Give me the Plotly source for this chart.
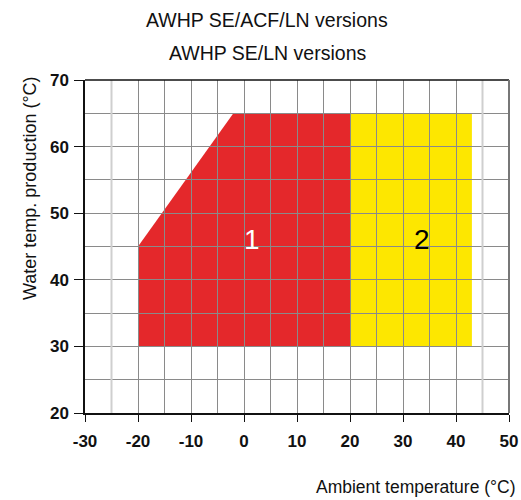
import plotly.graph_objects as go

# Operating envelope data
zone1_x = [-20, -20, -2, 20, 20]
zone1_y = [30, 45, 65, 65, 30]
zone2_x = [20, 20, 43, 43]
zone2_y = [30, 65, 65, 30]
zone_labels = ["1", "2"]
label_x = [1.5, 33.5]
label_y = [46, 46]
x_ticks = [-30, -20, -10, 0, 10, 20, 30, 40, 50]
y_ticks = [20, 30, 40, 50, 60, 70]
light_grid_x = [-25, 45]

def path(xs, ys):
    return "M " + " L ".join(f"{x},{y}" for x, y in zip(xs, ys)) + " Z"

L, R, T, B = 85, 509, 80, 413
PW, PH = R - L, B - T

fig = go.Figure()
fig.add_trace(go.Scatter(x=zone1_x + zone2_x, y=zone1_y + zone2_y, mode="markers",
                         marker=dict(opacity=0), hoverinfo="skip", showlegend=False))

fig.add_shape(type="path", path=path(zone1_x, zone1_y), fillcolor="#e4282b",
              line=dict(width=0), layer="below")
fig.add_shape(type="path", path=path(zone2_x, zone2_y), fillcolor="#fde700",
              line=dict(width=0), layer="below")
for gx in light_grid_x:
    fig.add_shape(type="line", x0=gx, x1=gx, y0=20, y1=70, xref="x", yref="y",
                  line=dict(color="#cfcfcf", width=2), layer="above")

for t, x, y, c in zip(zone_labels, label_x, label_y, ["white", "black"]):
    fig.add_annotation(x=x, y=y, text=t, showarrow=False, yanchor="middle",
                       font=dict(size=28, color=c, family="Liberation Sans"))

def px(x):
    return (x - L) / PW

def py(y):
    return (B - y) / PH

fig.add_annotation(xref="paper", yref="paper", x=px(267), y=py(20), yanchor="middle",
                   text="AWHP SE/ACF/LN versions", showarrow=False,
                   font=dict(size=19.5, color="#111", family="Liberation Sans"))
fig.add_annotation(xref="paper", yref="paper", x=px(267), y=py(53), yanchor="middle",
                   text="AWHP SE/LN versions", showarrow=False,
                   font=dict(size=19.5, color="#111", family="Liberation Sans"))
fig.add_annotation(xref="paper", yref="paper", x=px(18), y=py(188), yanchor="middle",
                   text="Water temp. production (°C)", showarrow=False, textangle=-90,
                   font=dict(size=18, color="#111", family="Liberation Sans"))
fig.add_annotation(xref="paper", yref="paper", x=px(518), y=py(487), yanchor="middle",
                   xanchor="right", text="Ambient temperature (°C)", showarrow=False,
                   font=dict(size=17.5, color="#111", family="Liberation Sans"))

fig.update_layout(
    width=521, height=500,
    margin=dict(l=L, r=521 - R, t=T, b=500 - B, autoexpand=False),
    paper_bgcolor="white", plot_bgcolor="white",
    showlegend=False,
    font=dict(family="Liberation Sans", color="#111"),
)
axis_common = dict(
    showgrid=True, gridcolor="#8a8a8a", gridwidth=1,
    ticks="outside", tickcolor="#111",
    showline=True, linecolor="#111", linewidth=1.5, mirror=False,
    tickfont=dict(size=17, family="Liberation Sans", color="#111"),
    zeroline=False, automargin=False,
)
fig.update_xaxes(range=[-30, 50], tickvals=x_ticks, ticktext=[f"<b>{v}</b>" for v in x_ticks],
                 minor=dict(dtick=5, tick0=-30, showgrid=True, gridcolor="#8a8a8a", gridwidth=1),
                 ticklen=7, ticklabelstandoff=5, **axis_common)
fig.update_yaxes(range=[20, 70], tickvals=y_ticks, ticktext=[f"<b>{v}</b>" for v in y_ticks],
                 minor=dict(dtick=5, tick0=20, showgrid=True, gridcolor="#8a8a8a", gridwidth=1),
                 ticklen=9, ticklabelstandoff=2, **axis_common)
fig.add_shape(type="line", xref="paper", yref="paper", x0=0, x1=1, y0=1, y1=1,
              line=dict(color="#111", width=1.5))
fig.add_shape(type="line", xref="paper", yref="paper", x0=1, x1=1, y0=0, y1=1,
              line=dict(color="#777", width=2))

fig.write_html("out.html", config={"displayModeBar": False},
               post_script="document.body.style.margin='0';")
